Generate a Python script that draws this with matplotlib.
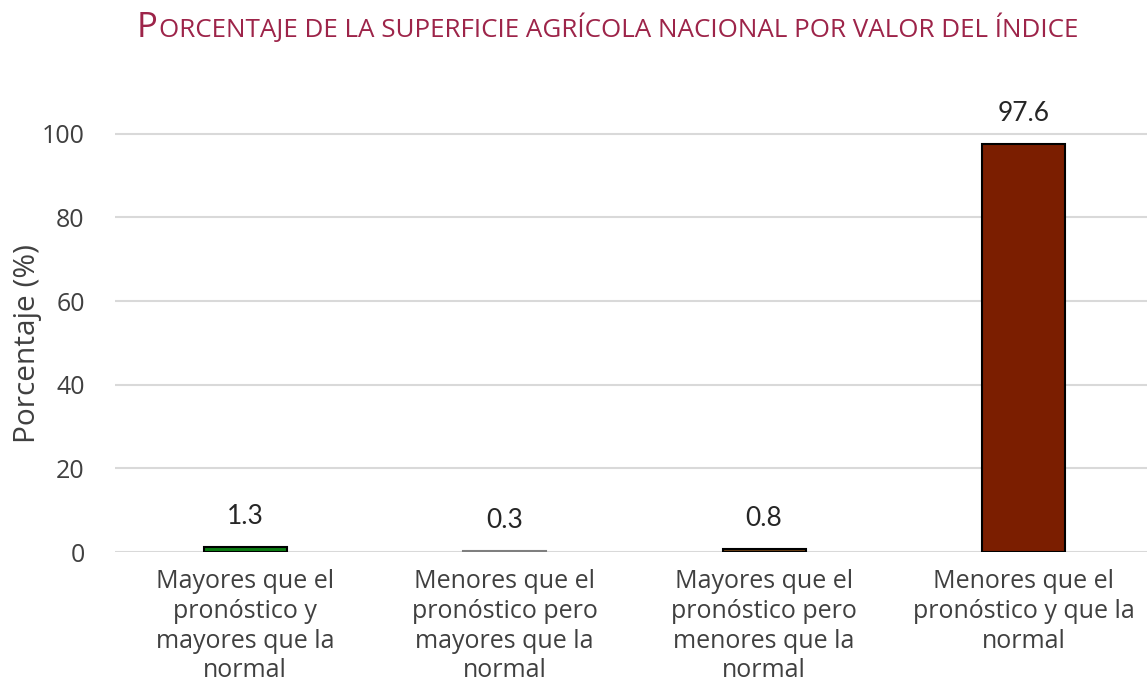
import matplotlib.pyplot as plt

categorias = ['Mayores que el\npronóstico y\nmayores que la\nnormal',
              'Menores que el\npronóstico pero\nmayores que la\nnormal',
              'Mayores que el\npronóstico pero\nmenores que la\nnormal',
              'Menores que el\npronóstico y que la\nnormal']
porcentaje = [1.3, 0.3, 0.8, 97.6]
colores = ['#0b7d12', '#7f7f7f', '#6e4217', '#7b1e00']
bordes = ['black', '#7f7f7f', 'black', 'black']
yticks = [0, 20, 40, 60, 80, 100]

plt.rcParams['font.family'] = ['Open Sans', 'DejaVu Sans']

fig = plt.figure(figsize=(11.47, 6.87), dpi=100)
ax = fig.add_axes([0.1005, 0.1965, 0.905, 0.6695])

x = range(len(categorias))
ax.bar(x, porcentaje, width=0.32, color=colores, edgecolor=bordes, linewidth=1.5, zorder=3)
for i, v in zip(x, porcentaje):
    ax.annotate(f'{v}', (i, v), xytext=(0, 13), textcoords='offset points',
                ha='center', va='bottom', fontsize=19, color='#262626',
                family=['Lato', 'DejaVu Sans'])

ax.set_xlim(-0.5, 3.5)
ax.set_ylim(0, 110)
ax.set_yticks(yticks)
ax.set_xticks(list(x))
ax.set_xticklabels(categorias, fontsize=18, color='#404040', linespacing=1.26)
ax.tick_params(axis='y', labelsize=18, labelcolor='#404040', length=0, pad=22)
ax.tick_params(axis='x', length=0, pad=12)
ax.grid(axis='y', color='#d9d9d9', linewidth=1.5, zorder=0)
for s in ax.spines.values():
    s.set_visible(False)
ax.set_ylabel('Porcentaje (%)', fontsize=21.5, color='#404040', va='center')
ax.yaxis.set_label_coords(-0.085, 0.454)

# titulo en versalitas
t1 = fig.text(0.1195, 0.946, 'P', fontsize=25, color='#9d2449', ha='left', va='baseline')
t2 = fig.text(0, 0.946, 'ORCENTAJE DE LA SUPERFICIE AGRÍCOLA NACIONAL POR VALOR DEL ÍNDICE',
              fontsize=18.7, color='#9d2449', ha='left', va='baseline')
fig.canvas.draw()
bb = t1.get_window_extent()
t2.set_x(bb.x1 / fig.bbox.width + 0.001)

plt.savefig('out.png', dpi=100)
